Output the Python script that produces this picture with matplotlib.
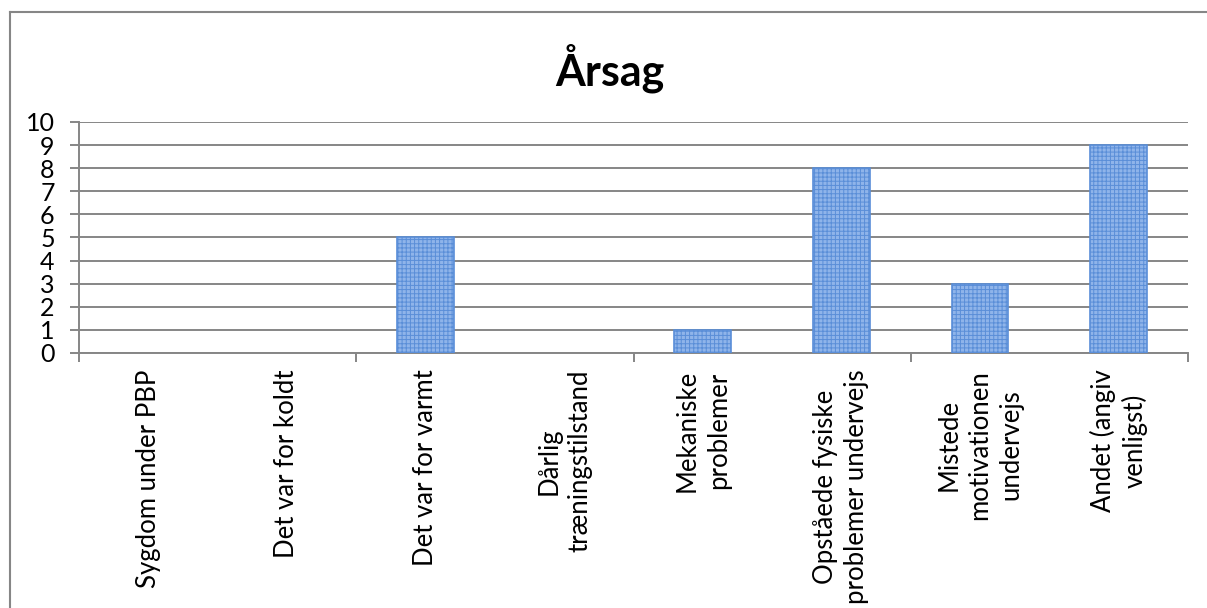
import matplotlib
matplotlib.use("Agg")
import matplotlib.pyplot as plt
from matplotlib.lines import Line2D

plt.rcParams['font.family'] = ['Lato', 'DejaVu Sans']
plt.rcParams['hatch.linewidth'] = 0.7

categories = [
    "Sygdom under PBP",
    "Det var for koldt",
    "Det var for varmt",
    "Dårlig\ntræningstilstand",
    "Mekaniske\nproblemer",
    "Opståede fysiske\nproblemer undervejs",
    "Mistede\nmotivationen\nundervejs",
    "Andet (angiv\nvenligst)",
]
values = [0, 0, 5, 0, 1, 8, 3, 9]
yticks = list(range(0, 11))
title = "Årsag"

W, H = 1207, 608
fig = plt.figure(figsize=(W / 100, H / 100), dpi=100)
ax = fig.add_axes([79 / W, 1 - 353 / H, (1188 - 79) / W, (353 - 122) / H])

grid_c = "#868686"
x = list(range(len(categories)))
bars = ax.bar(x, values, width=0.41, facecolor="#8fb4ea", edgecolor="#5a8ed8",
              hatch="++++", linewidth=1.2, zorder=3)
for b, v in zip(bars, values):
    if v == 0:
        b.set_visible(False)

ax.set_xlim(-0.5, len(categories) - 0.5)
ax.set_ylim(0, 10)
ax.set_yticks(yticks)
ax.yaxis.grid(True, color=grid_c, linewidth=1.4, zorder=0)
ax.set_axisbelow(True)

for s in ["top", "right"]:
    ax.spines[s].set_visible(False)
for s in ["left", "bottom"]:
    ax.spines[s].set_color(grid_c)
    ax.spines[s].set_linewidth(1.4)

ax.tick_params(axis="y", length=6.5, width=1.4, color=grid_c, pad=11,
               labelsize=18, labelcolor="black")

# major x ticks at every other category boundary
ax.set_xticks([-0.5, 1.5, 3.5, 5.5, 7.5])
ax.set_xticklabels([])
ax.tick_params(axis="x", which="major", length=6.5, width=1.4, color=grid_c)
ax.set_xticks(x, minor=True)
ax.set_xticklabels(categories, minor=True, rotation=90, fontsize=18.5,
                   va="top", ha="center", linespacing=1.3)
ax.tick_params(axis="x", which="minor", length=0, pad=12)

fig.text(0.5055, 1 - 68 / H, title, ha="center", va="center",
         fontsize=31, fontweight="bold")

# outer chart border (left and top visible)
fx = 9.5 / W
fy = 1 - 11.5 / H
fig.add_artist(Line2D([fx, fx], [0, fy], color=grid_c, lw=1.5,
                      transform=fig.transFigure))
fig.add_artist(Line2D([fx, 1], [fy, fy], color=grid_c, lw=1.5,
                      transform=fig.transFigure))

fig.savefig("out.png", dpi=100, facecolor="white")
